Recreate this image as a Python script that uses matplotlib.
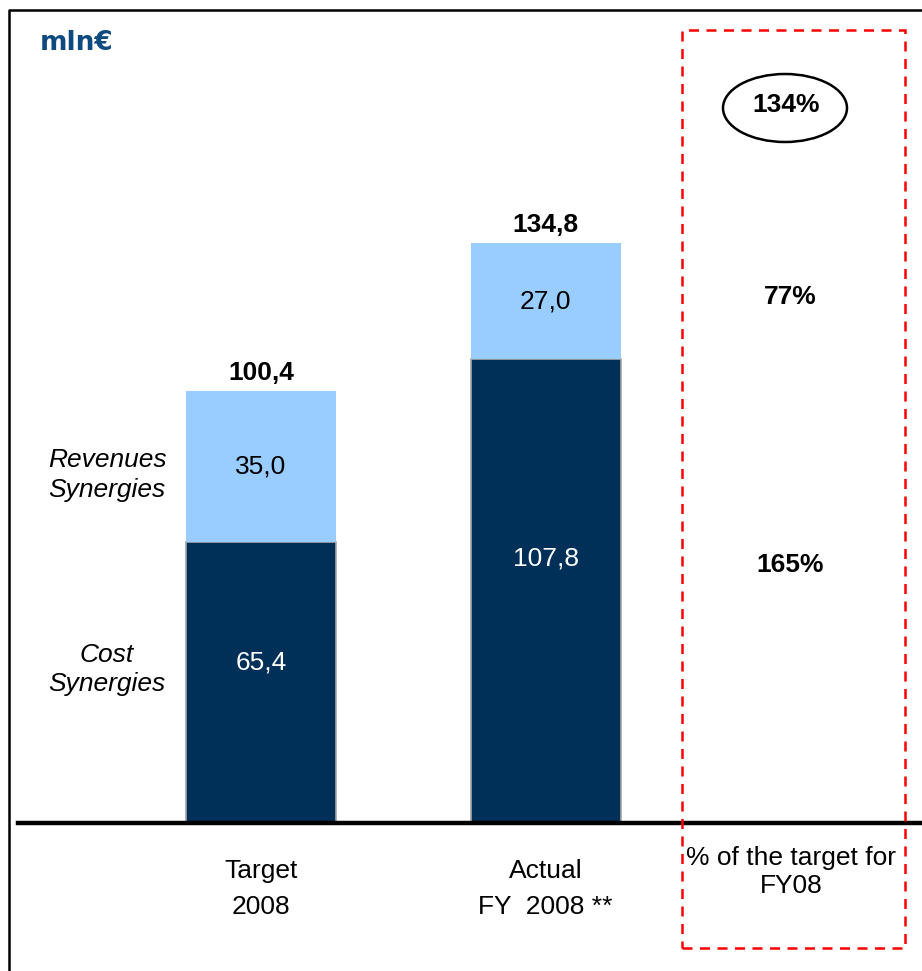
import matplotlib.pyplot as plt
from matplotlib.patches import Rectangle, Ellipse
from matplotlib.lines import Line2D

plt.rcParams['font.family'] = ['Liberation Sans', 'DejaVu Sans']

categories = ["Target\n2008", "Actual\nFY  2008 **"]
cost = [65.4, 107.8]
revenues = [35.0, 27.0]
totals = [100.4, 134.8]
pct_cost = "165%"
pct_rev = "77%"
pct_total = "134%"
unit = "mln€"

W, H = 922, 971
fig = plt.figure(figsize=(W / 100, H / 100), dpi=100)

def fx(px):
    return px / W

def fy(py):
    return 1 - py / H

# axes from baseline (y=823px) up to top frame
ax = fig.add_axes([fx(18), fy(823), fx(922 - 18), (823 - 10) / H])
ax.set_xlim(-0.854, 2.323)
ax.set_ylim(0, 813 / 4.3)

x = [0, 1]
dark = "#003057"
light = "#99ccff"
bw = 0.527
fs = 19
ax.bar(x, cost, width=bw, color=dark, edgecolor="#a6a6a6", linewidth=1.2)
ax.bar(x, revenues, bottom=cost, width=bw, color=light, linewidth=0)

fmt = lambda v: f"{v:.1f}".replace(".", ",")
for i in x:
    ax.text(i, cost[i] * 0.57, fmt(cost[i]), ha="center", va="center", color="white", fontsize=fs)
    ax.text(i, cost[i] + revenues[i] / 2, fmt(revenues[i]), ha="center", va="center",
            color="black", fontsize=fs)
    ax.text(i, totals[i] + 1.5, fmt(totals[i]), ha="center", va="bottom", color="black",
            fontsize=fs, fontweight="bold")

# side labels
ax.text(-0.541, cost[0] + revenues[0] / 2 - 2, "Revenues\nSynergies", ha="center", va="center",
        fontsize=fs, style="italic", linespacing=1.3)
ax.text(-0.541, cost[0] / 2 + 3, "Cost\nSynergies", ha="center", va="center",
        fontsize=fs, style="italic", linespacing=1.3)

# percentage column
px_pct = 1.86
ax.text(px_pct, cost[1] / 2 + 6, pct_cost, ha="center", va="center", fontsize=fs, fontweight="bold")
ax.text(px_pct, cost[1] + revenues[1] / 2 + 1, pct_rev, ha="center", va="center",
        fontsize=fs, fontweight="bold")
fig.text(fx(786), fy(105), pct_total, ha="center", va="center", fontsize=fs, fontweight="bold")
fig.patches.append(Ellipse((fx(785), fy(108)), fx(124), 68 / H, transform=fig.transFigure,
                           fill=False, edgecolor="black", linewidth=1.8))

ax.set_xticks(x)
ax.set_xticklabels(categories, fontsize=fs, linespacing=1.6)
ax.tick_params(axis="x", length=0, pad=26)
ax.set_yticks([])
for s in ["top", "right", "left"]:
    ax.spines[s].set_visible(False)
ax.spines["bottom"].set_linewidth(3.2)
ax.spines["bottom"].set_color("black")

fig.text(fx(791), fy(872), "% of the target for\nFY08", ha="center", va="center",
         fontsize=fs, linespacing=1.25)

fig.text(fx(40), fy(43), unit, ha="left", va="center", fontsize=19, fontweight="bold",
         color="#0d4a80", family="DejaVu Sans")

# red dashed box
fig.patches.append(Rectangle((fx(682), fy(948)), fx(905 - 682), (948 - 30) / H,
                             transform=fig.transFigure, fill=False, edgecolor="red",
                             linewidth=1.8, linestyle=(0, (4, 3))))

# outer frame (left and top)
fig.lines.append(Line2D([fx(9), fx(9), fx(922)], [0, fy(10), fy(10)],
                        transform=fig.transFigure, color="black", linewidth=1.8))

fig.savefig("out.png", dpi=100)
